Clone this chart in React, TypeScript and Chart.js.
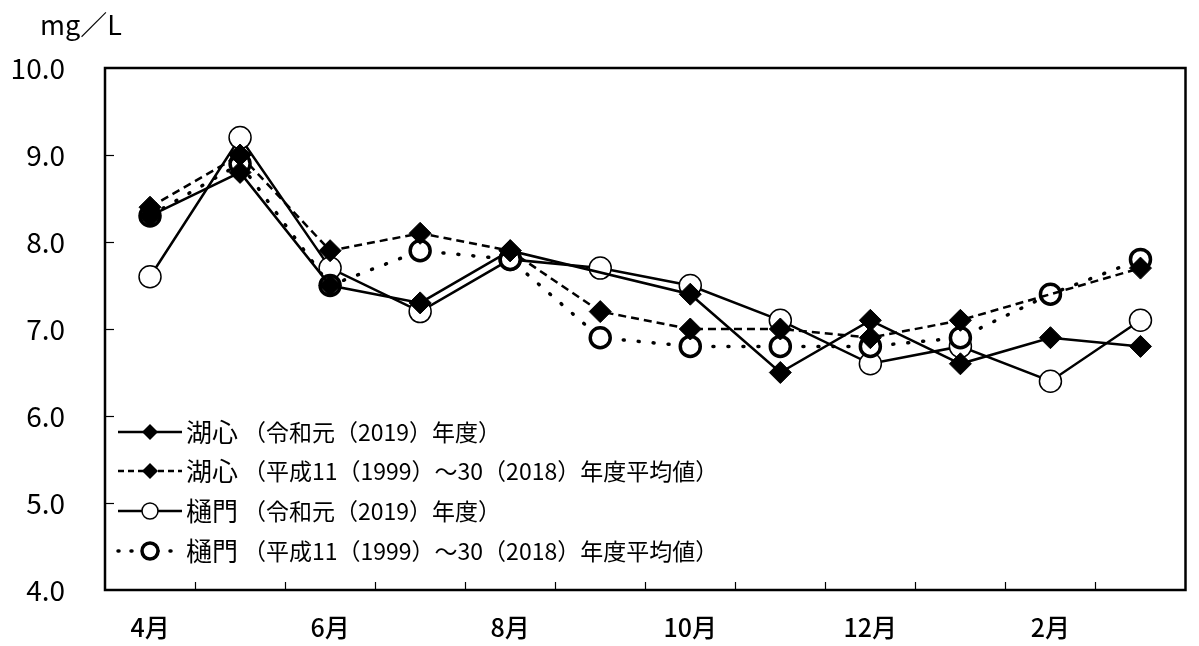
import React, { useEffect, useRef } from "react";
import { Chart, registerables } from "chart.js";

Chart.register(...registerables);

const months = ["4月", "5月", "6月", "7月", "8月", "9月", "10月", "11月", "12月", "1月", "2月", "3月"];
const koshin2019 = [8.3, 8.8, 7.5, 7.3, 7.9, null, 7.4, 6.5, 7.1, 6.6, 6.9, 6.8];
const koshinAvg = [8.4, 9.0, 7.9, 8.1, 7.9, 7.2, 7.0, 7.0, 6.9, 7.1, null, 7.7];
const himon2019 = [7.6, 9.2, 7.7, 7.2, 7.8, 7.7, 7.5, 7.1, 6.6, 6.8, 6.4, 7.1];
const himonAvg = [8.3, 8.9, 7.5, 7.9, 7.8, 6.9, 6.8, 6.8, 6.8, 6.9, 7.4, 7.8];
const seriesNames = ["湖心", "湖心", "樋門", "樋門"];
const seriesPeriods = [
  "（令和元（2019）年度）",
  "（平成11（1999）～30（2018）年度平均値）",
  "（令和元（2019）年度）",
  "（平成11（1999）～30（2018）年度平均値）",
];
const yMin = 4;
const yMax = 10;
const unitLabel = "mg／L";

const FONT = "'Noto Sans CJK JP', 'Noto Sans', sans-serif";

const framePlugin = {
  id: "frame",
  beforeDatasetsDraw(chart: any) {
    const { ctx, chartArea: a, scales } = chart;
    const x = scales.x;
    const y = scales.y;
    ctx.save();
    ctx.strokeStyle = "#000";
    ctx.lineWidth = 1.2;
    for (let v = yMin + 1; v < yMax; v++) {
      const py = Math.round(y.getPixelForValue(v)) + 0.5;
      ctx.beginPath();
      ctx.moveTo(a.left, py);
      ctx.lineTo(a.left + 9, py);
      ctx.stroke();
    }
    for (let i = 0; i < months.length - 1; i++) {
      const px = Math.round((x.getPixelForValue(i) + x.getPixelForValue(i + 1)) / 2) + 0.5;
      ctx.beginPath();
      ctx.moveTo(px, a.bottom);
      ctx.lineTo(px, a.bottom - 8);
      ctx.stroke();
    }
    ctx.lineWidth = 2.5;
    ctx.strokeRect(a.left, a.top, a.right - a.left, a.bottom - a.top);
    ctx.restore();
  },
  afterDraw(chart: any) {
    const { ctx } = chart;
    ctx.save();
    ctx.fillStyle = "#000";
    ctx.font = `27px ${FONT}`;
    ctx.textBaseline = "middle";
    ctx.textAlign = "left";
    ctx.fillText(unitLabel, 40, 25);

    const rowY = [432, 471, 511, 551];
    chart.data.datasets.forEach((ds: any, i: number) => {
      const yy = rowY[i];
      ctx.save();
      ctx.strokeStyle = "#000";
      ctx.lineWidth = ds.borderWidth;
      ctx.lineCap = ds.borderCapStyle || "butt";
      ctx.setLineDash(ds.legendDash || ds.borderDash || []);
      ctx.beginPath();
      ctx.moveTo(118, yy);
      ctx.lineTo(182, yy);
      ctx.stroke();
      ctx.setLineDash([]);
      const cx = 150;
      if (ds.pointStyle === "rectRot") {
        const r = 8;
        ctx.fillStyle = "#000";
        ctx.beginPath();
        ctx.moveTo(cx - r, yy);
        ctx.lineTo(cx, yy - r);
        ctx.lineTo(cx + r, yy);
        ctx.lineTo(cx, yy + r);
        ctx.closePath();
        ctx.fill();
      } else {
        const r = 8;
        ctx.fillStyle = "#fff";
        ctx.lineWidth = ds.pointBorderWidth;
        ctx.beginPath();
        ctx.arc(cx, yy, r, 0, Math.PI * 2);
        ctx.fill();
        ctx.stroke();
      }
      ctx.restore();
      ctx.fillStyle = "#000";
      ctx.textBaseline = "middle";
      ctx.textAlign = "left";
      ctx.font = `26px ${FONT}`;
      ctx.fillText(seriesNames[i], 186, yy);
      ctx.font = `23px ${FONT}`;
      ctx.fillText(seriesPeriods[i], 243, yy);
    });
    ctx.restore();
  },
};

export default function App() {
  const ref = useRef<HTMLCanvasElement | null>(null);
  useEffect(() => {
    document.body.style.margin = "0";
    const canvas = ref.current;
    if (!canvas) return;
    const chart = new Chart(canvas, {
      type: "line",
      data: {
        labels: months,
        datasets: [
          {
            label: seriesNames[0] + seriesPeriods[0],
            data: koshin2019,
            borderColor: "#000",
            borderWidth: 2.5,
            pointStyle: "rectRot",
            pointRadius: 11,
            pointBackgroundColor: "#000",
            pointBorderColor: "#000",
            pointBorderWidth: 1,
            spanGaps: true,
            order: 0,
          },
          {
            label: seriesNames[1] + seriesPeriods[1],
            data: koshinAvg,
            borderColor: "#000",
            borderWidth: 2.5,
            borderDash: [8, 5],
            legendDash: [6, 4],
            pointStyle: "rectRot",
            pointRadius: 11,
            pointBackgroundColor: "#000",
            pointBorderColor: "#000",
            pointBorderWidth: 1,
            spanGaps: true,
            order: 1,
          },
          {
            label: seriesNames[2] + seriesPeriods[2],
            data: himon2019,
            borderColor: "#000",
            borderWidth: 2.5,
            pointStyle: "circle",
            pointRadius: 11,
            pointBackgroundColor: "#fff",
            pointBorderColor: "#000",
            pointBorderWidth: 1.5,
            spanGaps: true,
            order: 3,
          },
          {
            label: seriesNames[3] + seriesPeriods[3],
            data: himonAvg,
            borderColor: "#000",
            borderWidth: 3.5,
            borderDash: [1, 14],
            legendDash: [1, 12],
            borderCapStyle: "round",
            pointStyle: "circle",
            pointRadius: 10,
            pointBackgroundColor: "#fff",
            pointBorderColor: "#000",
            pointBorderWidth: 3.5,
            spanGaps: true,
            order: 2,
          },
        ] as any,
      },
      options: {
        responsive: false,
        animation: false,
        devicePixelRatio: 1,
        layout: { padding: { top: 68, right: 2, left: 0, bottom: 0 } },
        plugins: {
          legend: { display: false },
          tooltip: { enabled: false },
          title: { display: false },
        },
        scales: {
          x: {
            type: "category",
            offset: true,
            grid: { display: false },
            border: { display: false },
            ticks: {
              autoSkip: false,
              maxRotation: 0,
              color: "#000",
              font: { family: FONT, size: 25, weight: "500" },
              padding: 14,
              callback: (_v: any, i: number) => (i % 2 === 0 ? months[i] : ""),
            },
            afterFit: (s: any) => {
              s.height = 56;
            },
          },
          y: {
            min: yMin,
            max: yMax,
            grid: { display: false },
            border: { display: false },
            ticks: {
              stepSize: 1,
              color: "#000",
              font: { family: FONT, size: 28 },
              padding: 32,
              callback: (v: any) => Number(v).toFixed(1),
            },
            afterFit: (s: any) => {
              s.width = 105;
            },
          },
        },
      } as any,
      plugins: [framePlugin],
    });
    return () => chart.destroy();
  }, []);
  return (
    <div style={{ width: 1199, height: 646 }}>
      <canvas ref={ref} width={1199} height={646} style={{ display: "block" }} />
    </div>
  );
}
